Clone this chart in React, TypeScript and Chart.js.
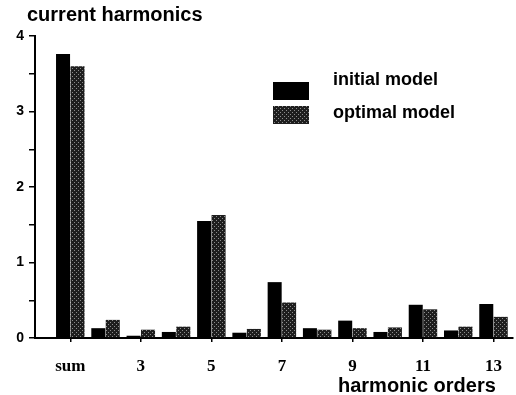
import React, { useEffect, useRef } from 'react';
import { Chart, registerables } from 'chart.js';

Chart.register(...registerables);

// ---- data ----
const categories = ['sum', '2', '3', '4', '5', '6', '7', '8', '9', '10', '11', '12', '13'];
const initialModel = [3.76, 0.13, 0.03, 0.08, 1.55, 0.07, 0.74, 0.13, 0.23, 0.08, 0.44, 0.1, 0.45];
const optimalModel = [3.6, 0.24, 0.11, 0.15, 1.63, 0.12, 0.47, 0.11, 0.13, 0.14, 0.38, 0.15, 0.28];
const xTickLabels = ['sum', '3', '5', '7', '9', '11', '13'];
const yTickValues = [0, 0.5, 1, 1.5, 2, 2.5, 3, 3.5, 4];
const seriesNames = ['initial model', 'optimal model'];
const TITLE = 'current harmonics';
const X_TITLE = 'harmonic orders';

function makePattern(): CanvasPattern | string {
  const c = document.createElement('canvas');
  c.width = 4;
  c.height = 4;
  const g = c.getContext('2d');
  if (!g) return '#333';
  g.fillStyle = '#1e1e1e';
  g.fillRect(0, 0, 4, 4);
  g.fillStyle = '#8c8c8c';
  g.fillRect(0, 0, 1, 1);
  g.fillRect(2, 2, 1, 1);
  return g.createPattern(c, 'repeat') || '#333';
}

const textPlugin = {
  id: 'customTexts',
  afterDraw(chart: any) {
    const ctx = chart.ctx as CanvasRenderingContext2D;
    ctx.save();
    ctx.textAlign = 'left';
    ctx.textBaseline = 'alphabetic';
    ctx.fillStyle = '#000';
    ctx.font = 'bold 20px "Liberation Sans", Arial, sans-serif';
    ctx.fillText(TITLE, 27, 21);
    ctx.fillText(X_TITLE, 338, 392);
    ctx.font = 'bold 18px "Liberation Sans", Arial, sans-serif';
    chart.data.datasets.forEach((ds: any, i: number) => {
      ctx.fillStyle = ds.backgroundColor;
      ctx.fillRect(273, 82 + i * 24, 36, 18);
      ctx.fillStyle = '#000';
      ctx.fillText(ds.label, 333, 85 + i * 33);
    });
    ctx.restore();
  },
};

export default function App() {
  const ref = useRef<HTMLCanvasElement>(null);

  useEffect(() => {
    document.body.style.margin = '0';
    if (!ref.current) return;
    const pattern = makePattern();
    const xTickPositions = xTickLabels.map((l) => categories.indexOf(l) + 1);
    const labelAt: Record<number, string> = {};
    xTickLabels.forEach((l, i) => (labelAt[xTickPositions[i]] = l));

    const chart = new Chart(ref.current, {
      type: 'bar',
      data: {
        datasets: [
          {
            label: seriesNames[0],
            data: categories.map((_, i) => ({ x: i + 1, y: initialModel[i] })),
            backgroundColor: '#000',
            categoryPercentage: 0.82,
            barPercentage: 0.97,
          },
          {
            label: seriesNames[1],
            data: categories.map((_, i) => ({ x: i + 1, y: optimalModel[i] })),
            backgroundColor: pattern as any,
            categoryPercentage: 0.82,
            barPercentage: 0.97,
          },
        ],
      },
      options: {
        animation: false,
        responsive: true,
        maintainAspectRatio: false,
        layout: { padding: { top: 36, right: 0, left: 0, bottom: 0 } },
        plugins: {
          legend: { display: false },
          title: { display: false },
          tooltip: { enabled: false },
        },
        scales: {
          x: {
            type: 'linear',
            offset: false,
            min: 0,
            max: 13.55,
            afterBuildTicks: (s: any) => {
              s.ticks = xTickPositions.map((v) => ({ value: v }));
            },
            afterFit: (s: any) => {
              s.height = 57;
            },
            ticks: {
              callback: (v: any) => labelAt[v] ?? '',
              autoSkip: false,
              maxRotation: 0,
              color: '#000',
              padding: 14,
              font: { family: '"Liberation Serif", "Times New Roman", serif', size: 17, weight: 'bold' },
            },
            grid: {
              offset: false,
              drawOnChartArea: false,
              drawTicks: true,
              tickLength: 4,
              color: '#000',
              lineWidth: 1.5,
            },
            border: { display: true, color: '#000', width: 2 },
          },
          y: {
            min: 0,
            max: 4,
            afterBuildTicks: (s: any) => {
              s.ticks = yTickValues.map((v) => ({ value: v }));
            },
            afterFit: (s: any) => {
              s.width = 35;
            },
            ticks: {
              callback: (v: any) => (Number.isInteger(v) ? String(v) : ''),
              color: '#000',
              padding: 5,
              font: { family: '"Liberation Sans", Arial, sans-serif', size: 14, weight: 'bold' },
            },
            grid: {
              drawOnChartArea: false,
              drawTicks: true,
              tickLength: 6,
              color: '#000',
              lineWidth: 1.5,
            },
            border: { display: true, color: '#000', width: 2 },
          },
        },
      },
      plugins: [textPlugin],
    });
    return () => chart.destroy();
  }, []);

  return (
    <div style={{ width: 516, height: 395, position: 'relative', background: '#fff' }}>
      <canvas ref={ref} />
    </div>
  );
}
